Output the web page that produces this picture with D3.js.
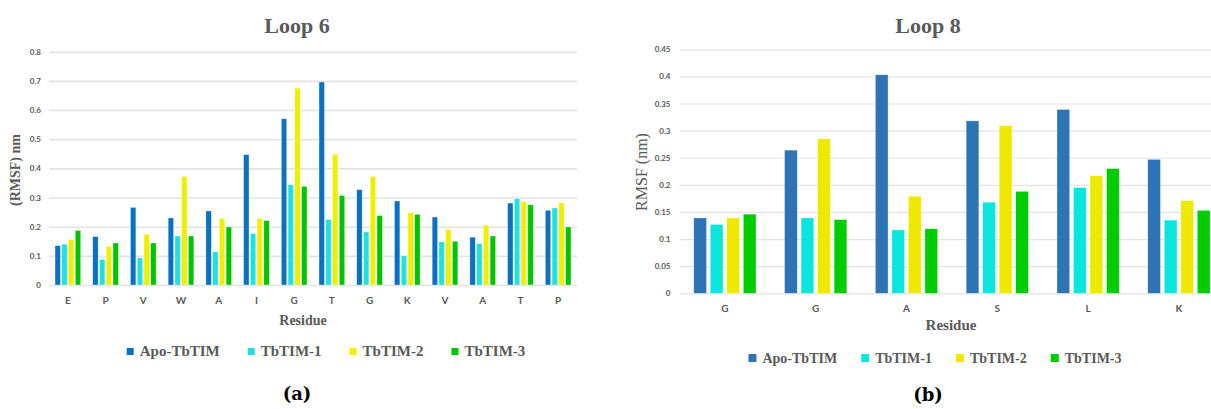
<!DOCTYPE html>
<html>
<head>
<meta charset="utf-8">
<script src="https://cdn.jsdelivr.net/npm/d3@7"></script>
<style>
  html, body { margin: 0; padding: 0; background: #fff; }
  svg { display: block; }
</style>
</head>
<body>
<svg id="chart" width="1211" height="409"></svg>
<script>
// Series shared by both panels
const seriesNames = ["Apo-TbTIM", "TbTIM-1", "TbTIM-2", "TbTIM-3"];

// Loop 6 RMSF per residue (nm)
const loop6Residues = ["E", "P", "V", "W", "A", "I", "G", "T", "G", "K", "V", "A", "T", "P"];
const loop6Apo  = [0.135, 0.166, 0.266, 0.230, 0.254, 0.447, 0.570, 0.696, 0.327, 0.288, 0.233, 0.164, 0.281, 0.256];
const loop6T1   = [0.140, 0.088, 0.093, 0.168, 0.114, 0.176, 0.344, 0.225, 0.182, 0.100, 0.148, 0.142, 0.296, 0.264];
const loop6T2   = [0.156, 0.132, 0.174, 0.372, 0.228, 0.228, 0.675, 0.448, 0.372, 0.248, 0.190, 0.205, 0.286, 0.282];
const loop6T3   = [0.187, 0.144, 0.144, 0.168, 0.199, 0.221, 0.338, 0.307, 0.238, 0.242, 0.150, 0.168, 0.275, 0.199];
const loop6Ticks = [0, 0.1, 0.2, 0.3, 0.4, 0.5, 0.6, 0.7, 0.8];

// Loop 8 RMSF per residue (nm)
const loop8Residues = ["G", "G", "A", "S", "L", "K"];
const loop8Apo  = [0.139, 0.264, 0.403, 0.318, 0.339, 0.247];
const loop8T1   = [0.127, 0.139, 0.117, 0.168, 0.195, 0.135];
const loop8T2   = [0.139, 0.285, 0.179, 0.309, 0.217, 0.171];
const loop8T3   = [0.146, 0.136, 0.119, 0.188, 0.230, 0.153];
const loop8Ticks = [0, 0.05, 0.1, 0.15, 0.2, 0.25, 0.3, 0.35, 0.4, 0.45];

const svg = d3.select("#chart");
const GRAY = "#595959";
const SERIF = "'Liberation Serif', 'DejaVu Serif', serif";
const SANS = "Lato, 'Open Sans', sans-serif";

function drawPanel(p) {
  const g = svg.append("g");
  const n = p.residues.length;
  const idx = d3.range(n);

  const x0 = d3.scaleBand().domain(idx).range([p.left, p.right])
    .paddingInner(p.groupPad).paddingOuter(p.groupPad / 2);
  const x1 = d3.scaleBand().domain(d3.range(seriesNames.length))
    .range([0, x0.bandwidth()]).padding(p.barPad).paddingOuter(0);
  const y = d3.scaleLinear().domain([0, p.yMax]).range([p.bottom, p.top]);

  // horizontal gridlines (the 0 line doubles as the baseline)
  const yAxis = d3.axisLeft(y).tickValues(p.ticks)
    .tickSize(-(p.right - p.left)).tickPadding(p.tickPad)
    .tickFormat(d => d3.format("~g")(+d.toFixed(3)));
  const ya = g.append("g").attr("transform", `translate(${p.left},0)`).call(yAxis);
  ya.select(".domain").remove();
  ya.selectAll(".tick line").attr("stroke", "#e3e3e3").attr("stroke-width", p.gridW);
  ya.selectAll(".tick text")
    .attr("fill", GRAY).style("font-family", SANS).style("font-weight", 700)
    .style("font-size", p.tickSize + "px");

  // residue labels
  const xAxis = d3.axisBottom(x0).tickSize(0).tickPadding(p.xTickPad)
    .tickFormat(i => p.residues[i]);
  const xa = g.append("g").attr("transform", `translate(0,${p.bottom})`).call(xAxis);
  xa.select(".domain").remove();
  xa.selectAll(".tick text")
    .attr("fill", GRAY).style("font-family", SANS).style("font-weight", 700)
    .style("font-size", p.xLabelSize + "px");

  // grouped bars
  const groups = g.append("g").selectAll("g").data(idx).join("g")
    .attr("transform", i => `translate(${x0(i)},0)`);
  groups.selectAll("rect")
    .data(i => p.series.map((vals, s) => ({ s, v: vals[i] })))
    .join("rect")
    .attr("x", d => x1(d.s))
    .attr("width", x1.bandwidth())
    .attr("y", d => y(d.v))
    .attr("height", d => y(0) - y(d.v))
    .attr("fill", d => p.colors[d.s])
    .attr("stroke", "rgba(255,255,255,0.55)")
    .attr("stroke-width", 0.6);

  // title
  g.append("text").attr("x", p.titleX).attr("y", p.titleY)
    .attr("text-anchor", "middle").attr("fill", GRAY)
    .style("font-family", SERIF).style("font-weight", 700)
    .style("font-size", p.titleSize + "px").text(p.title);

  // axis titles
  g.append("text").attr("x", p.xTitleX).attr("y", p.xTitleY)
    .attr("text-anchor", "middle").attr("fill", GRAY)
    .style("font-family", SERIF).style("font-weight", 700)
    .style("font-size", p.xTitleSize + "px").text("Residue");
  g.append("text")
    .attr("transform", `translate(${p.yTitleX},${p.yTitleY}) rotate(-90)`)
    .attr("text-anchor", "middle").attr("fill", GRAY)
    .style("font-family", SERIF).style("font-weight", p.yTitleWeight)
    .style("font-size", p.yTitleSize + "px").text(p.yTitle);

  // legend, laid out from the measured label widths and centred
  const lg = g.append("g");
  const items = lg.selectAll("g").data(seriesNames).join("g");
  items.append("rect").attr("width", p.swatch).attr("height", p.swatch)
    .attr("y", -p.swatch - 1).attr("fill", (d, i) => p.colors[i]);
  items.append("text").attr("x", p.swatch + 6).attr("fill", GRAY)
    .style("font-family", SERIF).style("font-weight", 700)
    .style("font-size", p.legendSize + "px").text(d => d);
  let cx = 0;
  items.each(function () {
    const w = this.querySelector("text").getComputedTextLength() + p.swatch + 6;
    d3.select(this).attr("transform", `translate(${cx},0)`);
    cx += w + p.legendGap;
  });
  const total = cx - p.legendGap;
  lg.attr("transform", `translate(${p.legendX - total / 2},${p.legendY})`);

  // panel letter
  g.append("text").attr("x", p.tagX).attr("y", p.tagY)
    .attr("text-anchor", "middle").attr("fill", "#000")
    .style("font-family", "'DejaVu Serif', serif").style("font-weight", 700)
    .style("font-size", "18px").text(p.tag);
}

drawPanel({
  title: "Loop 6", tag: "(a)", yTitle: "(RMSF) nm",
  residues: loop6Residues,
  series: [loop6Apo, loop6T1, loop6T2, loop6T3],
  colors: ["#0a70c2", "#20e0e0", "#efef00", "#00c400"],
  ticks: loop6Ticks, yMax: 0.8,
  left: 49, right: 577, top: 51.7, bottom: 285,
  groupPad: 0.32, barPad: 0.2, gridW: 1.6,
  tickPad: 8, tickSize: 8, xTickPad: 12, xLabelSize: 10,
  titleX: 297, titleY: 33, titleSize: 22,
  xTitleX: 303, xTitleY: 325, xTitleSize: 14,
  yTitleX: 20, yTitleY: 170, yTitleSize: 14, yTitleWeight: 700,
  legendX: 326, legendY: 356, legendSize: 15, legendGap: 28, swatch: 7,
  tagX: 297, tagY: 400
});

drawPanel({
  title: "Loop 8", tag: "(b)", yTitle: "RMSF (nm)",
  residues: loop8Residues,
  series: [loop8Apo, loop8T1, loop8T2, loop8T3],
  colors: ["#2e74b5", "#0ce4de", "#efe800", "#00cc00"],
  ticks: loop8Ticks, yMax: 0.45,
  left: 679.5, right: 1224.3, top: 49.3, bottom: 293.3,
  groupPad: 0.314, barPad: 0.23, gridW: 1.2,
  tickPad: 9, tickSize: 8, xTickPad: 12, xLabelSize: 10,
  titleX: 928, titleY: 33, titleSize: 22,
  xTitleX: 951, xTitleY: 330, xTitleSize: 15,
  yTitleX: 647, yTitleY: 172, yTitleSize: 16, yTitleWeight: 400,
  legendX: 935, legendY: 363, legendSize: 14, legendGap: 24, swatch: 8,
  tagX: 928, tagY: 401
});
</script>
</body>
</html>
